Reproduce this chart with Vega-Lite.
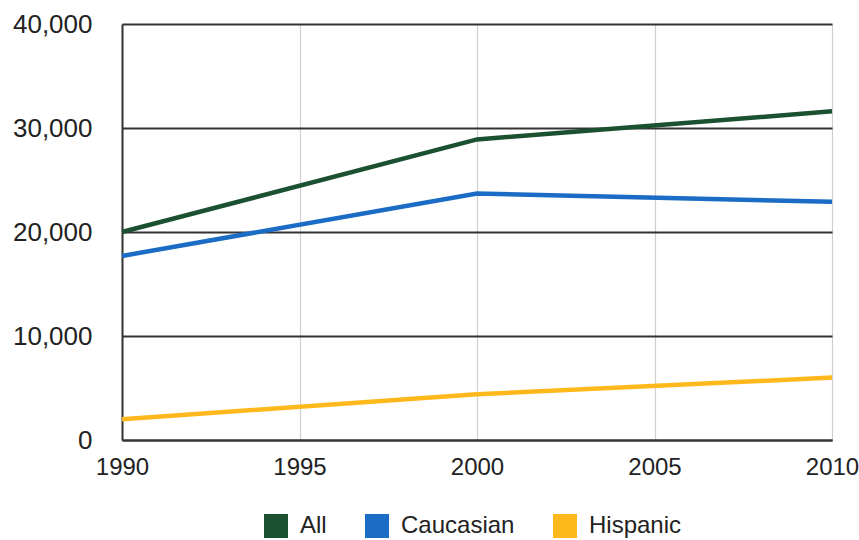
{
  "$schema": "https://vega.github.io/schema/vega-lite/v6.json",
  "width": 710,
  "height": 416,
  "autosize": {"type": "none"},
  "padding": {"left": 122, "top": 24, "right": 27, "bottom": 100},
  "background": "white",
  "config": {
    "font": "Liberation Sans",
    "view": {"stroke": null},
    "axis": {"labelFont": "Liberation Sans", "labelColor": "#222", "ticks": false, "title": null}
  },
  "data": {
    "values": [
      {"year": 1990, "group": "All", "value": 20000},
      {"year": 2000, "group": "All", "value": 28900},
      {"year": 2010, "group": "All", "value": 31600},
      {"year": 1990, "group": "Caucasian", "value": 17700},
      {"year": 2000, "group": "Caucasian", "value": 23700},
      {"year": 2010, "group": "Caucasian", "value": 22900},
      {"year": 1990, "group": "Hispanic", "value": 2000},
      {"year": 2000, "group": "Hispanic", "value": 4400},
      {"year": 2010, "group": "Hispanic", "value": 6000}
    ]
  },
  "mark": {"type": "line", "strokeWidth": 4.5, "strokeCap": "butt", "strokeJoin": "miter"},
  "encoding": {
    "x": {
      "field": "year", "type": "quantitative",
      "scale": {"domain": [1990, 2010], "nice": false, "zero": false},
      "axis": {"values": [1990, 1995, 2000, 2005, 2010], "format": "d", "labelPadding": 15, "labelFontSize": 24,
        "domainColor": "#333", "domainWidth": 2, "gridColor": "#cfcfcf", "gridWidth": 1.2, "labelFlush": false}
    },
    "y": {
      "field": "value", "type": "quantitative",
      "scale": {"domain": [0, 40000], "nice": false},
      "axis": {"values": [0, 10000, 20000, 30000, 40000], "format": ",d", "labelPadding": 30, "labelFontSize": 26,
        "domainColor": "#333", "domainWidth": 2, "gridColor": "#333", "gridWidth": 2}
    },
    "color": {
      "field": "group", "type": "nominal",
      "scale": {"domain": ["All", "Caucasian", "Hispanic"], "range": ["#1b5030", "#1b6cc4", "#ffb81c"]},
      "legend": {
        "title": null, "orient": "none", "direction": "horizontal", "columns": 3,
        "legendX": 142, "legendY": 490,
        "symbolType": "square", "symbolSize": 576, "symbolOpacity": 1,
        "labelFontSize": 24, "labelColor": "#222", "labelFont": "Liberation Sans",
        "labelOffset": 12, "columnPadding": 38,
        "encode": {
          "symbols": {
            "update": {
              "fill": {"scale": "color", "field": "value"},
              "stroke": {"scale": "color", "field": "value"},
              "strokeWidth": {"value": 0},
              "fillOpacity": {"value": 1}
            }
          }
        }
      }
    }
  }
}
